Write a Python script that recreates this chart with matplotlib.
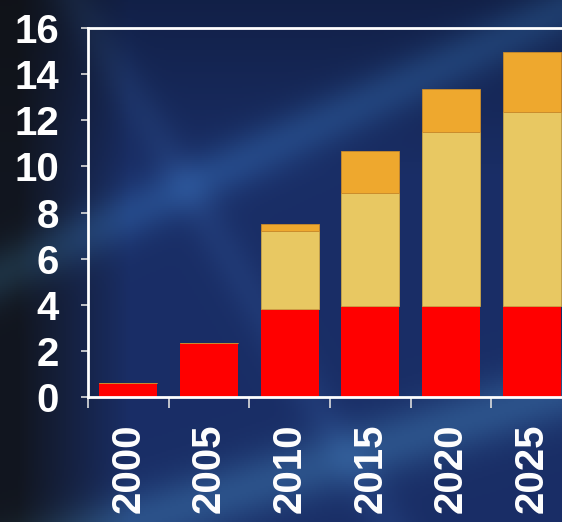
import matplotlib.pyplot as plt
import numpy as np

# data
years = ['2000', '2005', '2010', '2015', '2020', '2025']
red_part = [0.6, 2.35, 3.8, 3.95, 3.95, 3.95]
light_part = [0.0, 0.0, 3.4, 4.9, 7.55, 8.4]
orange_part = [0.0, 0.0, 0.3, 1.8, 1.85, 2.6]

yticks = [0, 2, 4, 6, 8, 10, 12, 14, 16]

fig = plt.figure(figsize=(5.62, 5.22), dpi=100)

# dark blue "photo" backdrop, built as a smooth gradient
bg = fig.add_axes([0, 0, 1, 1], zorder=0)
h, w = 261, 281
yy, xx = np.mgrid[0:1:h * 1j, 0:1:w * 1j]
base = np.array([0.10, 0.18, 0.40])
img = np.ones((h, w, 3)) * base
# darker top band and near-black left edge
img *= (0.7 + 0.3 * np.clip(yy * 3, 0, 1))[..., None]
left = np.clip((xx - 0.03) / 0.2, 0, 1)
img = img * (0.2 + 0.8 * left)[..., None] + np.array([0.07, 0.07, 0.06]) * (1 - left)[..., None] * 0.7


def streak(x0, y0, x1, y1, width, strength, col):
    d = np.abs((y1 - y0) * xx - (x1 - x0) * yy + x1 * y0 - y1 * x0) / np.hypot(x1 - x0, y1 - y0)
    return np.exp(-(d / width) ** 2)[..., None] * strength * np.array(col)


img += streak(0.15, 0.45, 1.0, 0.02, 0.05, 0.3, [0.15, 0.35, 0.45])
img += streak(0.25, 1.0, 1.0, 0.75, 0.06, 0.35, [0.20, 0.40, 0.40])
img += streak(0.30, 0.30, 0.55, 0.75, 0.04, 0.12, [0.20, 0.35, 0.45])
bg.imshow(np.clip(img, 0, 1), aspect='auto', extent=[0, 1, 0, 1])
bg.axis('off')

ax = fig.add_axes([88 / 562, 125 / 522, 484 / 562, 369 / 522], zorder=1)
ax.patch.set_alpha(0)

x = np.arange(len(years))
bw = 0.72
bottom2 = np.array(red_part) + np.array(light_part)
ax.bar(x, red_part, bw, color='#ff0000', zorder=2)
ax.bar(x, light_part, bw, bottom=red_part, color='#e8c862',
       edgecolor='#c9a448', linewidth=0.6, zorder=2)
ax.bar(x, orange_part, bw, bottom=bottom2, color='#eea82e',
       edgecolor='#c98a2a', linewidth=0.6, zorder=2)

ax.set_xlim(-0.5, len(years) - 0.5)
ax.set_ylim(0, 16)

for s in ['left', 'bottom', 'top']:
    ax.spines[s].set_color('white')
    ax.spines[s].set_linewidth(2)
ax.spines['right'].set_visible(False)

font = dict(family='Liberation Sans', weight='bold', size=29, color='white')
ax.set_yticks(yticks)
ax.set_yticklabels([str(v) for v in yticks], **font)
ax.tick_params(axis='y', direction='out', length=5, width=1.2, color='#dddddd', pad=16)

ax.set_xticks(x)
ax.set_xticklabels(years, rotation=90, va='top', **font)
ax.set_xticks(np.arange(len(years) + 1) - 0.5, minor=True)
ax.tick_params(axis='x', which='major', length=0, pad=19)
ax.tick_params(axis='x', which='minor', direction='out', length=8, width=1.2, color='#dddddd')

fig.savefig('out.png', dpi=100)
